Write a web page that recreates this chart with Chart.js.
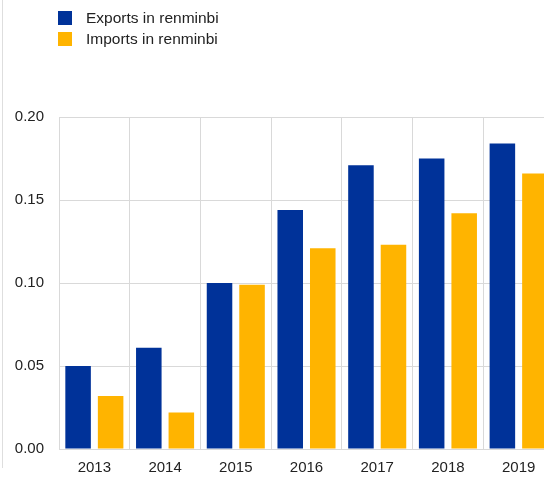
<!DOCTYPE html>
<html>
<head>
<meta charset="utf-8">
<script src="https://cdn.jsdelivr.net/npm/chart.js@4/dist/chart.umd.min.js"></script>
<style>
  html, body { margin: 0; padding: 0; background: #fff; overflow: hidden; }
  #wrap { position: relative; width: 544px; height: 479px; overflow: hidden; }
  #edge { position: absolute; left: 2px; top: 0; width: 1px; height: 468px; background: #dedede; }
  #legend { position: absolute; left: 58px; top: 8px; font-family: "Liberation Sans", Arial, sans-serif; font-size: 15.5px; color: #222; }
  #legend div { height: 21px; line-height: 19px; white-space: nowrap; }
  #legend span { display: inline-block; width: 14px; height: 14px; vertical-align: -2px; margin-right: 14px; }
  #chartBox { position: absolute; left: 0; top: 0; width: 554px; height: 479px; }
</style>
</head>
<body>
<div id="wrap">
  <div id="edge"></div>
  <div id="chartBox"><canvas id="chart" width="554" height="479"></canvas></div>
  <div id="legend"></div>
</div>
<script>
// Data
const years = ["2013", "2014", "2015", "2016", "2017", "2018", "2019"];
const exportsRmb = [0.050, 0.061, 0.100, 0.144, 0.171, 0.175, 0.184];
const importsRmb = [0.032, 0.022, 0.099, 0.121, 0.123, 0.142, 0.166];
const seriesNames = ["Exports in renminbi", "Imports in renminbi"];
const seriesColors = ["#003299", "#FFB400"];
const yTicks = [0, 0.05, 0.10, 0.15, 0.20];

const font = { family: "'Liberation Sans', Arial, sans-serif", size: 15 };
const gridColor = "#d9d9d9";

// Simple HTML legend, stacked vertically
const legend = document.getElementById("legend");
seriesNames.forEach((name, i) => {
  const row = document.createElement("div");
  const box = document.createElement("span");
  box.style.background = seriesColors[i];
  row.appendChild(box);
  row.appendChild(document.createTextNode(name));
  legend.appendChild(row);
});

const ctx = document.getElementById("chart").getContext("2d");
new Chart(ctx, {
  type: "bar",
  data: {
    labels: years,
    datasets: [
      { label: seriesNames[0], data: exportsRmb, backgroundColor: seriesColors[0] },
      { label: seriesNames[1], data: importsRmb, backgroundColor: seriesColors[1] }
    ]
  },
  options: {
    responsive: false,
    animation: false,
    devicePixelRatio: 1,
    categoryPercentage: 0.92,
    barPercentage: 0.785,
    layout: { padding: { top: 117, left: 0, right: 0, bottom: 0 } },
    plugins: { legend: { display: false }, tooltip: { enabled: false } },
    scales: {
      x: {
        grid: { color: gridColor, drawTicks: false, offset: true },
        border: { color: gridColor },
        ticks: { font: font, color: "#222", padding: 10 },
        afterFit: s => { s.height = 30; }
      },
      y: {
        min: 0,
        max: 0.2,
        afterBuildTicks: s => { s.ticks = yTicks.map(v => ({ value: v })); },
        grid: { color: gridColor, drawTicks: false },
        border: { display: false },
        ticks: { font: font, color: "#222", padding: 15, callback: v => v.toFixed(2) },
        afterFit: s => { s.width = 59; }
      }
    }
  }
});
</script>
</body>
</html>
